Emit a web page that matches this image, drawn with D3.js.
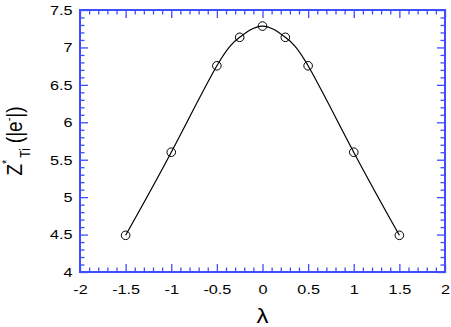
<!DOCTYPE html>
<html>
<head>
<meta charset="utf-8">
<script src="https://cdn.jsdelivr.net/npm/d3@7"></script>
<style>
  body { margin: 0; background: #fff; }
  text { font-family: "Liberation Sans", Arial, Helvetica, sans-serif; }
</style>
</head>
<body>
<script>
// data
var lambdaVals = [-1.5, -1, -0.5, -0.25, 0, 0.25, 0.5, 1, 1.5];
var zTi = [4.49, 5.6, 6.755, 7.135, 7.285, 7.135, 6.755, 5.6, 4.49];

var xMajor = [-2, -1.5, -1, -0.5, 0, 0.5, 1, 1.5, 2];
var yMajor = [4, 4.5, 5, 5.5, 6, 6.5, 7, 7.5];

//setup graph size
var W = 451, H = 327;
var margin = {top: 10, bottom: 55, right: 6, left: 80};
var width = W - margin.left - margin.right,
    height = H - margin.top - margin.bottom;

var axisColor = '#3d4dff';
var stretch = 1.2; // the text in the picture is a bit wider than normal

var xScale = d3.scaleLinear().domain([-2, 2]).range([0, width]);
var yScale = d3.scaleLinear().domain([4, 7.5]).range([height, 0]);

// minor ticks every 0.1
var xMinor = d3.range(-20, 21).map(function(d) { return d / 10; })
    .filter(function(d) { return Math.abs(d * 2 - Math.round(d * 2)) > 1e-6; });
var yMinor = d3.range(40, 76).map(function(d) { return d / 10; })
    .filter(function(d) { return Math.abs(d * 2 - Math.round(d * 2)) > 1e-6; });

var svg = d3.select('body').append('svg')
    .attr('width', W)
    .attr('height', H);

var g = svg.append('g')
    .attr('transform', 'translate(' + margin.left + ',' + margin.top + ')');

var fmt = function(d) { return String(d); };

function styleAxis(sel) {
    sel.select('.domain').remove();
    sel.selectAll('line').attr('stroke', axisColor).attr('stroke-width', 1.3);
}

// bottom axis
var axB = g.append('g').attr('transform', 'translate(0,' + height + ')');
axB.append('g').call(d3.axisBottom(xScale).tickValues(xMinor).tickSize(-4.5).tickFormat('')).call(styleAxis);
axB.append('g').call(d3.axisBottom(xScale).tickValues(xMajor).tickSize(-8).tickFormat(fmt).tickPadding(12))
    .call(styleAxis)
    .selectAll('text')
    .attr('fill', '#000')
    .attr('font-size', 13.5)
    .attr('transform', 'scale(' + stretch + ',1)');

// top axis
var axT = g.append('g');
axT.append('g').call(d3.axisTop(xScale).tickValues(xMinor).tickSize(-4.5).tickFormat('')).call(styleAxis);
axT.append('g').call(d3.axisTop(xScale).tickValues(xMajor).tickSize(-8).tickFormat('')).call(styleAxis);

// left axis
var axL = g.append('g');
axL.append('g').call(d3.axisLeft(yScale).tickValues(yMinor).tickSize(-4.5).tickFormat('')).call(styleAxis);
axL.append('g').call(d3.axisLeft(yScale).tickValues(yMajor).tickSize(-8).tickFormat(fmt).tickPadding(0))
    .call(styleAxis)
    .selectAll('text')
    .attr('x', -7.5 / stretch)
    .attr('fill', '#000')
    .attr('font-size', 13.5)
    .attr('transform', 'scale(' + stretch + ',1)');

// right axis
var axR = g.append('g').attr('transform', 'translate(' + width + ',0)');
axR.append('g').call(d3.axisRight(yScale).tickValues(yMinor).tickSize(-4.5).tickFormat('')).call(styleAxis);
axR.append('g').call(d3.axisRight(yScale).tickValues(yMajor).tickSize(-8).tickFormat('')).call(styleAxis);

// frame
g.append('rect')
    .attr('x', 0).attr('y', 0)
    .attr('width', width).attr('height', height)
    .attr('fill', 'none')
    .attr('stroke', axisColor)
    .attr('stroke-width', 2);

// curve through the points
var pts = lambdaVals.map(function(d, i) { return {x: d, y: zTi[i]}; });

var line = d3.line()
    .x(function(d) { return xScale(d.x); })
    .y(function(d) { return yScale(d.y); })
    .curve(d3.curveNatural);

g.append('path')
    .datum(pts)
    .attr('d', line)
    .attr('fill', 'none')
    .attr('stroke', '#000')
    .attr('stroke-width', 1.2);

g.selectAll('.dot')
    .data(pts)
    .enter().append('circle')
    .attr('class', 'dot')
    .attr('cx', function(d) { return xScale(d.x); })
    .attr('cy', function(d) { return yScale(d.y); })
    .attr('r', 4.3)
    .attr('fill', 'none')
    .attr('stroke', '#000')
    .attr('stroke-width', 1);

// x label
svg.append('text')
    .attr('transform', 'translate(' + (margin.left + xScale(0)) + ',' + 323 + ') scale(' + stretch + ',1)')
    .attr('text-anchor', 'middle')
    .attr('font-size', 20)
    .text('λ');

// y label
var yl = svg.append('text')
    .attr('transform', 'translate(21.5,141) scale(' + stretch + ',1) rotate(-90)')
    .attr('text-anchor', 'middle')
    .attr('font-size', 19);
yl.append('tspan').text('Z');
yl.append('tspan').attr('font-size', 11).attr('dy', -9).text('*');
yl.append('tspan').attr('font-size', 12).attr('dx', 2).attr('dy', 16).text('Ti');
yl.append('tspan').attr('dy', -7).attr('dx', 5).text('(|e');
yl.append('tspan').attr('font-size', 11).attr('dy', -7).text('-');
yl.append('tspan').attr('dy', 7).text('|)');
</script>
</body>
</html>
